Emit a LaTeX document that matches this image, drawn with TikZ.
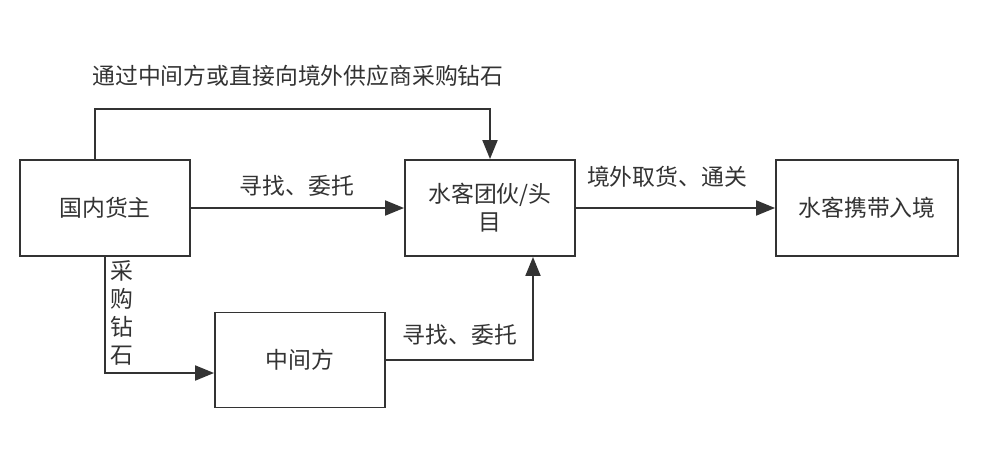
\documentclass[tikz,border=0pt]{standalone}
\usepackage{fontspec}
\newfontfamily\cjk{Noto Sans CJK SC}
\usepackage{tikz}
\usetikzlibrary{arrows.meta,positioning,calc}
\definecolor{skline}{HTML}{333333}
\definecolor{sktext}{HTML}{333333}
\tikzset{
  sk/box/.style={
    draw=skline, fill=white, line width=1.1pt, align=center,
    inner sep=2pt, text=sktext, minimum width=3.4cm, minimum height=1.92cm
  },
  sk/label/.style={text=sktext, inner sep=0pt, align=center},
  sk/arr/.style={-{Triangle[length=0.38cm, width=0.3cm]}, skline, line width=1.1pt}
}
\begin{document}
\begin{tikzpicture}[x=0.02cm, y=-0.02cm, font=\cjk\fontsize{13}{15.8}\selectfont]
  \useasboundingbox (0,0) rectangle (1000,456);

  % --- Boxes ---
  \node[sk/box] (owner) at (105,208) {国内货主};
  \node[sk/box] (gang) at (490,208) {水客团伙/头\\目};
  \node[sk/box, minimum width=3.64cm] (entry) at (867,208) {水客携带入境};
  \node[sk/box, minimum height=1.9cm] (mid) at (300,360) {中间方};

  % --- Labels ---
  \node[sk/label] (ltop) at (298,76) {通过中间方或直接向境外供应商采购钻石};
  \node[sk/label] (lfind) at (297,186) {寻找、委托};
  \node[sk/label] (lbuy) at (122,313) {采\\购\\钻\\石};
  \node[sk/label] (lfind2) at (460,335) {寻找、委托};
  \node[sk/label] (lpick) at (667,177) {境外取货、通关};

  % --- Connectors ---
  \draw[sk/arr] ([xshift=-0.2cm]owner.north) -- ++(0,-50) -| (gang.north);
  \draw[sk/arr] (owner.east) -- (gang.west);
  \draw[sk/arr] (owner.south) |- ([yshift=-0.26cm]mid.west);
  \draw[sk/arr] (mid.east) -| ([xshift=0.86cm]gang.south);
  \draw[sk/arr] (gang.east) -- (entry.west);
\end{tikzpicture}
\end{document}
